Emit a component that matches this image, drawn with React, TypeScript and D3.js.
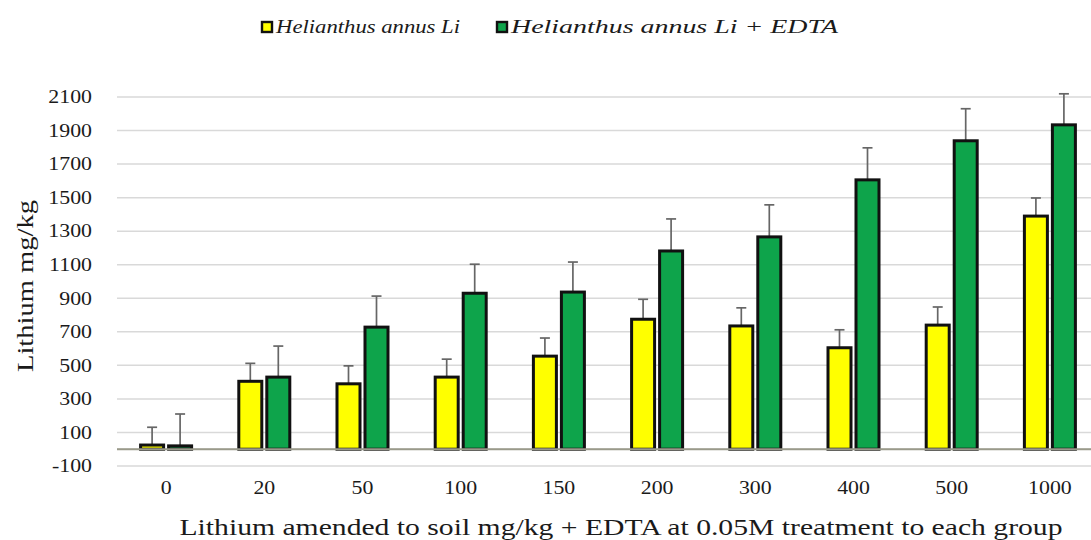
import React from "react";
import * as d3 from "d3";

const categories = ["0", "20", "50", "100", "150", "200", "300", "400", "500", "1000"];
const liValues = [25, 405, 390, 430, 555, 775, 735, 605, 740, 1390];
const liErrors = [106, 107, 107, 107, 108, 119, 108, 107, 108, 108];
const edtaValues = [20, 430, 728, 930, 937, 1182, 1266, 1606, 1839, 1934];
const edtaErrors = [190, 185, 185, 173, 179, 191, 191, 191, 191, 185];
const yTicks = [-100, 100, 300, 500, 700, 900, 1100, 1300, 1500, 1700, 1900, 2100];
const seriesNames = ["Helianthus annus Li", "Helianthus annus Li + EDTA"];
const seriesColors = ["#ffff00", "#0ea44b"];

const W = 1091;
const H = 540;
const FONT = "Liberation Serif";
const SX = 1.15;

export default function App() {
  const x = d3.scaleBand<string>().domain(categories).range([117, 1099]).padding(0);
  const y = d3.scaleLinear().domain([-100, 2100]).range([466, 97]);
  const barW = 23;
  const gap = 5;
  const series = [
    { values: liValues, errors: liErrors, color: seriesColors[0], off: -gap / 2 - barW },
    { values: edtaValues, errors: edtaErrors, color: seriesColors[1], off: gap / 2 },
  ];
  const gridVals = [...yTicks, 0].sort((a, b) => a - b);

  const T = (p: { x: number; y: number; anchor?: string; size: number; children: React.ReactNode }) => (
    <text
      transform={`translate(${p.x},${p.y + p.size * 0.33}) scale(${SX},1)`}
      textAnchor={p.anchor || "start"}
      style={{ fontFamily: FONT }}
      fontSize={p.size}
      fill="#1a1a1a"
    >
      {p.children}
    </text>
  );

  return (
    <svg width={W} height={H} style={{ position: "absolute", left: 0, top: 0, background: "#fff", fontFamily: FONT }}>
      <rect x={0} y={0} width={W} height={H} fill="#ffffff" />
      {gridVals.map((v) => (
        <line key={"g" + v} x1={117} x2={1099} y1={y(v)} y2={y(v)} stroke="#d9d9d9" strokeWidth={1.5} />
      ))}
      {yTicks.map((v) => (
        <T key={"yt" + v} x={92} y={y(v)} anchor="end" size={19}>
          {String(v)}
        </T>
      ))}
      {series.map((s, si) =>
        categories.map((c, i) => {
          const cx = (x(c) as number) + x.bandwidth() / 2;
          const bx = cx + s.off;
          const top = y(s.values[i]);
          const et = y(s.values[i] + s.errors[i]);
          return (
            <g key={`b${si}-${i}`}>
              <line x1={bx + barW / 2} x2={bx + barW / 2} y1={top} y2={et} stroke="#666" strokeWidth={1.7} />
              <line x1={bx + barW / 2 - 5} x2={bx + barW / 2 + 5} y1={et} y2={et} stroke="#666" strokeWidth={1.7} />
              <rect x={bx} y={top} width={barW} height={y(0) - top} fill={s.color} stroke="#111" strokeWidth={3} />
            </g>
          );
        })
      )}
      <line x1={117} x2={1099} y1={y(0)} y2={y(0)} stroke="#9a9a8a" strokeWidth={1.8} />
      {categories.map((c) => (
        <T key={"xt" + c} x={(x(c) as number) + x.bandwidth() / 2} y={488} anchor="middle" size={19}>
          {c}
        </T>
      ))}
      <text
        x={621}
        y={535}
        textAnchor="middle"
        style={{ fontFamily: FONT }}
        fontSize={23}
        fill="#1a1a1a"
        textLength={883}
        lengthAdjust="spacingAndGlyphs"
      >
        Lithium amended to soil mg/kg + EDTA at 0.05M treatment to each group
      </text>
      <text
        transform="translate(33,286) rotate(-90)"
        textAnchor="middle"
        style={{ fontFamily: FONT }}
        fontSize={23}
        fill="#1a1a1a"
        textLength={172}
        lengthAdjust="spacingAndGlyphs"
      >
        Lithium mg/kg
      </text>
      {[
        { sx: 262, tx: 276, tl: 184 },
        { sx: 497, tx: 511, tl: 327 },
      ].map((l, i) => (
        <g key={"lg" + i}>
          <rect x={l.sx} y={22} width={10} height={10} fill={seriesColors[i]} stroke="#111" strokeWidth={2.4} />
          <text
            x={l.tx}
            y={33}
            style={{ fontFamily: FONT, fontStyle: "italic" }}
            fontSize={18}
            fill="#1a1a1a"
            textLength={l.tl}
            lengthAdjust="spacingAndGlyphs"
          >
            {seriesNames[i]}
          </text>
        </g>
      ))}
    </svg>
  );
}
